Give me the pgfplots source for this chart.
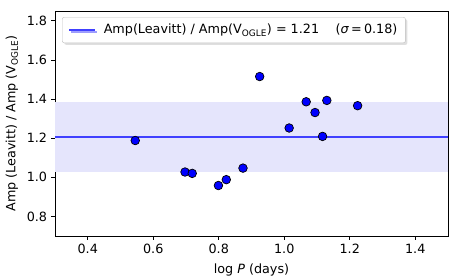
\documentclass[border=0pt]{standalone}
\usepackage{fontspec}
\setmainfont{DejaVu Sans}
\usepackage{pgfplots}
\pgfplotsset{compat=1.18}
\usetikzlibrary{shadows,calc}
\definecolor{bandblue}{RGB}{229,229,252}
\definecolor{lineblue}{RGB}{64,64,255}
\begin{document}
\fontsize{12.8}{15}\selectfont
\begin{tikzpicture}[font=\fontsize{12.8}{15}\selectfont]
\begin{axis}[
  scale only axis,
  width=393bp, height=225bp,
  xmin=0.3, xmax=1.5, ymin=0.7, ymax=1.85,
  xtick={0.4,0.6,0.8,1.0,1.2,1.4},
  ytick={0.8,1.0,1.2,1.4,1.6,1.8},
  xticklabel style={/pgf/number format/fixed,/pgf/number format/precision=1,/pgf/number format/fixed zerofill},
  yticklabel style={/pgf/number format/fixed,/pgf/number format/precision=1,/pgf/number format/fixed zerofill},
  /pgf/number format/assume math mode=true,
  tick label style={font=\fontsize{12.8}{15}\selectfont},
  label style={font=\fontsize{12.8}{15}\selectfont},
  xlabel style={yshift=-2bp},
  tick align=outside, xtick pos=left, ytick pos=left,
  major tick length=3.5bp,
  tick style={black, line width=0.8bp},
  axis line style={line width=0.8bp},
  xlabel={log \textit{P} (days)},
  ylabel={Amp (Leavitt) / Amp (V\textsubscript{OGLE})},
  legend style={at={(0.018,0.973)}, anchor=north west, draw=gray!50, rounded corners=2bp, fill=white,
    drop shadow={shadow xshift=2bp, shadow yshift=-2bp, fill=gray!50},
    inner xsep=6bp, inner ysep=5bp, font=\fontsize{12.8}{15}\selectfont},
  legend image code/.code={\draw[#1] (0bp,0bp) -- (26bp,0bp);},
  legend cell align=left,
  clip=true,
]
\addplot[fill=bandblue, draw=none, forget plot] coordinates {(0.3,1.028) (1.5,1.028) (1.5,1.383) (0.3,1.383)} -- cycle;
\addplot[lineblue, line width=1.5bp] coordinates {(0.3,1.206) (1.5,1.206)};
\addlegendentry{\hspace{6bp}Amp(Leavitt) / Amp(V\textsubscript{OGLE}) = 1.21\hspace{1.3em}(\textit{σ}\,=\,0.18)}
\addplot[only marks, mark=*, mark size=4.3bp, mark options={fill=blue, draw=black, line width=0.7bp}, forget plot] coordinates {
(0.545,1.188)
(0.697,1.027)
(0.719,1.020)
(0.799,0.958)
(0.823,0.988)
(0.874,1.047)
(0.925,1.515)
(1.015,1.252)
(1.067,1.386)
(1.094,1.331)
(1.117,1.209)
(1.130,1.393)
(1.224,1.366)
};
\end{axis}
\pgfresetboundingbox
\path[use as bounding box] ($(current axis.south west)+(-55bp,-42bp)$) rectangle ($(current axis.north east)+(15bp,11bp)$);
\end{tikzpicture}
\end{document}
